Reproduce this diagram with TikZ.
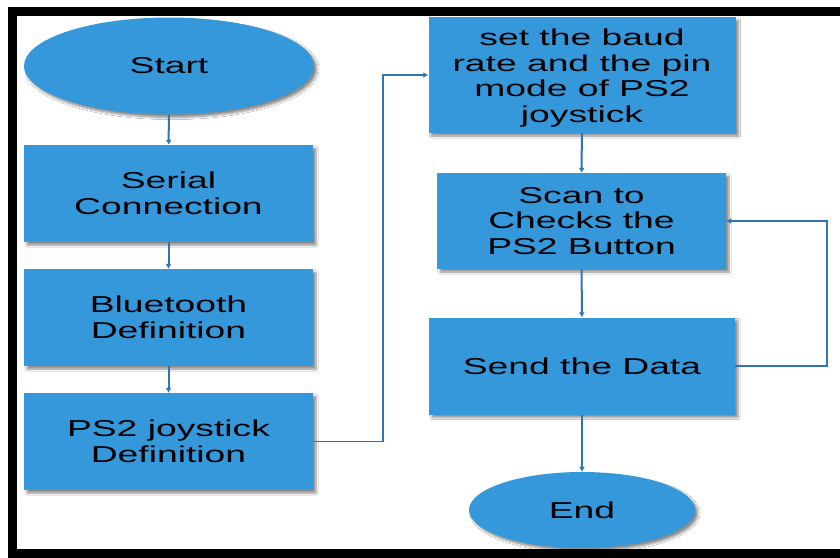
\documentclass[tikz,border=0pt]{standalone}
\usepackage{fontspec}
\setmainfont[FakeStretch=1.62]{Liberation Sans}
\usetikzlibrary{shapes.geometric,arrows.meta,shadows.blur}
\definecolor{boxblue}{RGB}{52,152,219}
\definecolor{lineblue}{RGB}{46,117,182}
\begin{document}
\begin{tikzpicture}[x=1pt,y=-1pt,
    stepbox/.style={rectangle, fill=boxblue, align=center, inner sep=0pt,
      font=\fontsize{23}{25.5}\selectfont,
      blur shadow={shadow xshift=3pt, shadow yshift=-3pt, shadow blur steps=6, shadow opacity=45}},
    terminal/.style={stepbox, ellipse},
    flow/.style={draw=lineblue, line width=2pt, -{Latex[length=5pt,width=6pt]}},
    loopline/.style={draw=lineblue, line width=1.5pt, -{Latex[length=5pt,width=6pt]}}]
    \useasboundingbox (0,0) rectangle (840,557);
    \clip (0,0) rectangle (840,557);
    \fill[white] (0,0) rectangle (840,557);
    \draw[black, line width=9pt] (12.5,11) rectangle (870,553);
    \node[terminal, minimum width=290, minimum height=97] (start) at (169,66) {Start};
    \node[stepbox, minimum width=289, minimum height=97] (serial) at (168.5,193.5) {Serial\\Connection};
    \node[stepbox, minimum width=289, minimum height=97] (bluetooth) at (168.5,317.5) {Bluetooth\\Definition};
    \node[stepbox, minimum width=289, minimum height=97] (joydef) at (168.5,441.5) {PS2 joystick\\Definition};
    \node[stepbox, minimum width=307, minimum height=116] (baud) at (582,75)
      {\raisebox{-4pt}[\height][\depth]{\begin{tabular}{@{}c@{}}set the baud\\rate and the pin\\mode of PS2\\joystick\end{tabular}}};
    \node[stepbox, minimum width=289, minimum height=96] (scan) at (581.5,221) {Scan to\\Checks the\\PS2 Button};
    \node[stepbox, minimum width=306, minimum height=97] (send) at (582,366) {Send the Data};
    \node[terminal, minimum width=226, minimum height=76] (finish) at (582,510) {End};
    \coordinate (jogleft) at (383,0);
    \coordinate (jogright) at (827,0);
    \foreach \a/\b in {start/serial, serial/bluetooth, bluetooth/joydef, baud/scan, scan/send, send/finish} {
      \draw[flow] (\a) -- (\b);
    }
    \draw[loopline] (joydef.east) -- (joydef.east -| jogleft) -- (jogleft |- baud.west) -- (baud.west);
    \draw[loopline] (send.east) -- (send.east -| jogright) -- (jogright |- scan.east) -- (scan.east);
\end{tikzpicture}
\end{document}
